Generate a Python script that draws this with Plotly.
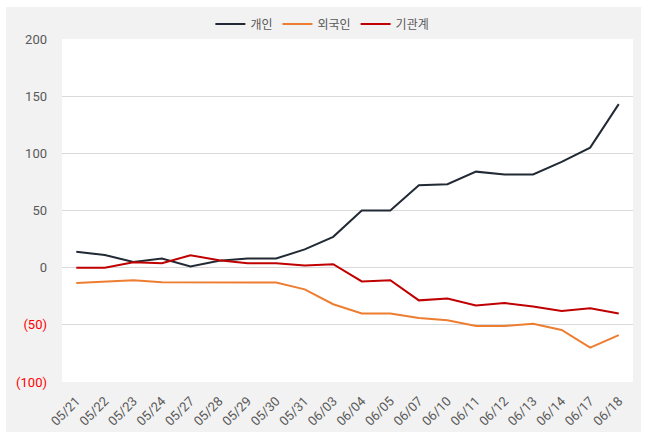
import plotly.graph_objects as go

dates = ["05/21","05/22","05/23","05/24","05/27","05/28","05/29","05/30","05/31","06/03",
         "06/04","06/05","06/07","06/10","06/11","06/12","06/13","06/14","06/17","06/18"]
individual = [14, 11, 5, 8, 1, 6, 8, 8, 16, 27, 50, 50, 72, 73, 84, 81.5, 81.5, 92.5, 105, 143]
foreign = [-13.4, -12, -11, -12.8, -13, -13, -13, -13, -19, -32, -40, -40, -44, -46, -51, -51, -49, -54.5, -70, -59]
institution = [0, 0, 4.7, 3.8, 10.8, 6.4, 3.8, 3.8, 2, 3, -12, -11, -28.6, -27, -33, -31, -34, -38, -35.6, -40]

names = ["개인", "외국인", "기관계"]
colors = ["#222a35", "#ed7d31", "#c00000"]
tick_vals = [-100, -50, 0, 50, 100, 150, 200]
tick_text = ["<span style='color:#ff0000'>(100)</span>", "<span style='color:#ff0000'>(50)</span>",
             "0", "50", "100", "150", "200"]

fig = go.Figure()
for name, vals, c in zip(names, [individual, foreign, institution], colors):
    fig.add_trace(go.Scatter(x=dates, y=vals, mode="lines", name=name,
                             line=dict(color=c, width=2)))

font_family = "Roboto, Noto Sans CJK KR, sans-serif"
fig.update_layout(
    width=645, height=436,
    margin=dict(l=62, r=12, t=39, b=54, autoexpand=False),
    paper_bgcolor="white", plot_bgcolor="white",
    font=dict(family=font_family, color="#595959", size=13),
    showlegend=True,
    legend=dict(orientation="h", x=0.456, xanchor="center", y=1.044, yanchor="middle",
                font=dict(size=12, color="#595959"), bgcolor="rgba(0,0,0,0)",
                itemwidth=30, tracegroupgap=0),
    shapes=[dict(type="rect", xref="paper", yref="paper", x0=-0.098, x1=1.014,
                 y0=-0.146, y1=1.093, fillcolor="#f2f2f2", line=dict(width=0), layer="below"),
            dict(type="rect", xref="paper", yref="paper", x0=0, x1=1,
                 y0=0, y1=1, fillcolor="white", line=dict(width=0), layer="below")],
    xaxis=dict(type="category", range=[-0.5, 19.5], showgrid=False, tickangle=-45,
               tickfont=dict(size=13, color="#595959"), ticks="", showline=False, zeroline=False,
               ticklabelstandoff=8),
    yaxis=dict(range=[-100, 200], tickvals=tick_vals, ticktext=tick_text, showgrid=True,
               gridcolor="#d9d9d9", gridwidth=1, zeroline=False, ticks="",
               tickfont=dict(size=13, color="#595959"), ticklabelstandoff=14),
)
fig.write_html("out.html", config={"displayModeBar": False},
               post_script="document.body.style.margin='0';document.body.style.overflow='hidden';")
